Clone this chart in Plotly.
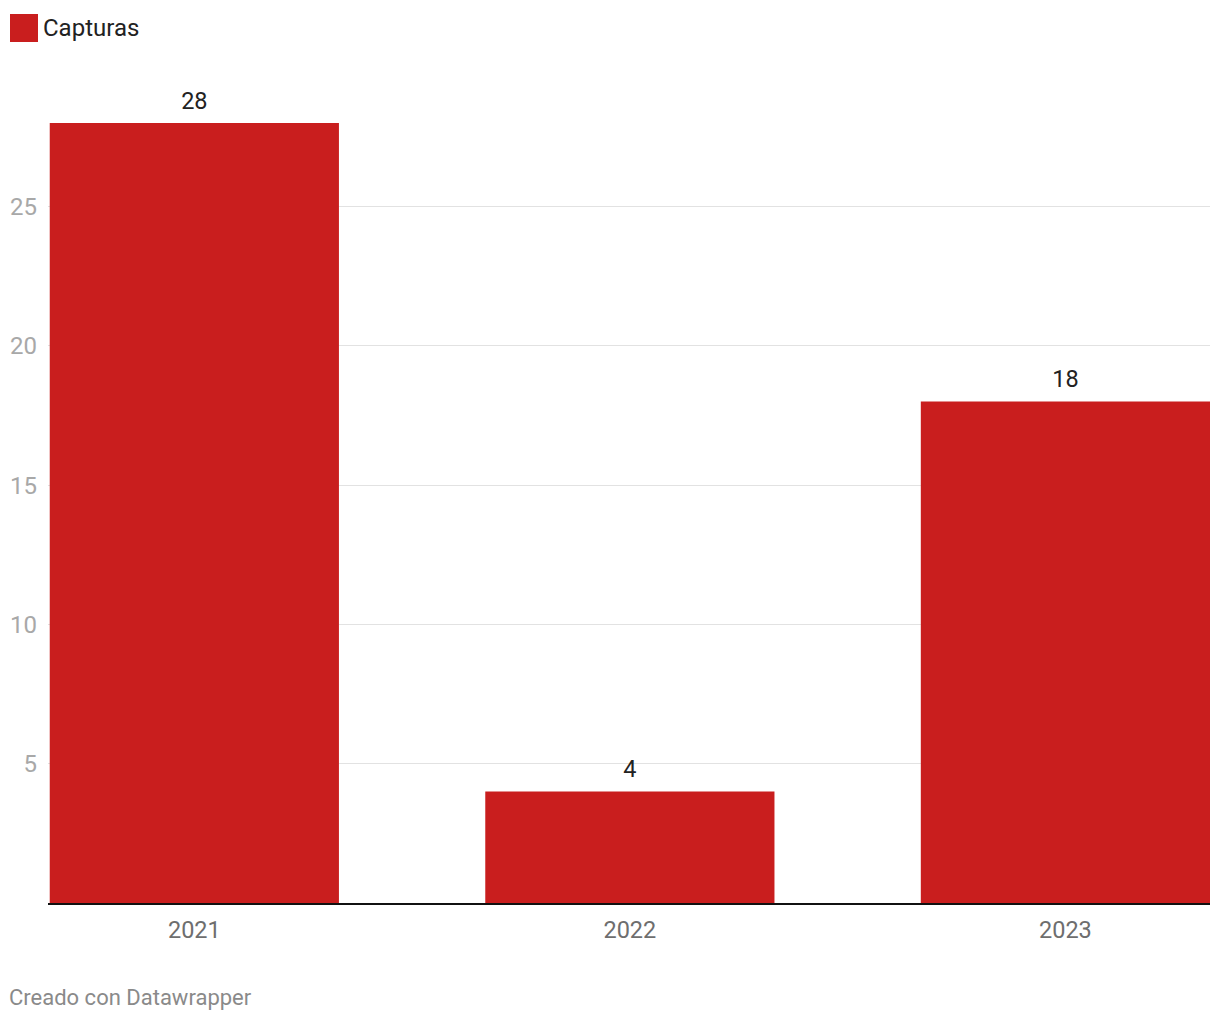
import plotly.graph_objects as go

years = ["2021", "2022", "2023"]
capturas = [28, 4, 18]
series_name = "Capturas"
y_ticks = [5, 10, 15, 20, 25]

RED = "#c91e1e"

fig = go.Figure()
fig.add_trace(go.Bar(
    x=years, y=capturas, name=series_name,
    marker=dict(color=RED, line=dict(width=0)),
    width=0.664, showlegend=False,
))
fig.add_trace(go.Scatter(
    x=years, y=capturas, mode="markers+text",
    text=[str(v) for v in capturas], textposition="top center",
    marker=dict(size=12, color="rgba(0,0,0,0)"),
    textfont=dict(family="Roboto", size=23.5, color="#222222"),
    cliponaxis=False, showlegend=False, hoverinfo="skip",
))

fig.update_layout(
    width=1220, height=1020,
    margin=dict(l=48, r=10, t=123, b=117),
    paper_bgcolor="white", plot_bgcolor="white",
    font=dict(family="Roboto", size=23.5),
    xaxis=dict(
        type="category", range=[-0.336, 2.332],
        showgrid=False, showline=True, linecolor="#111111", linewidth=2,
        ticks="", tickfont=dict(color="#6e6e6e", size=23.5),
        ticklabelstandoff=5,
    ),
    yaxis=dict(
        range=[0, 28], tickvals=y_ticks, ticktext=[str(t) for t in y_ticks],
        showgrid=True, gridcolor="#e2e2e2", gridwidth=1,
        zeroline=False, showline=False, ticks="",
        tickfont=dict(color="#a8a8a8", size=24),
        ticklabelstandoff=10,
    ),
    shapes=[dict(type="rect", xref="paper", yref="paper",
                 x0=-38/1162, x1=-10/1162,
                 y0=1 + (123 - 42) / 780, y1=1 + (123 - 14) / 780,
                 fillcolor=RED, line=dict(width=0))],
    annotations=[
        dict(text=series_name, xref="paper", yref="paper",
             x=-7/1162, y=1 + (123 - 28) / 780, xanchor="left", yanchor="middle",
             showarrow=False, font=dict(family="Roboto", size=24, color="#222222")),
        dict(text="Creado con Datawrapper", xref="paper", yref="paper",
             x=-41/1162, y=-(997 - 903) / 780, xanchor="left", yanchor="middle",
             showarrow=False, font=dict(family="Roboto", size=22, color="#8a8a8a")),
    ],
)

fig.write_html("out.html")
